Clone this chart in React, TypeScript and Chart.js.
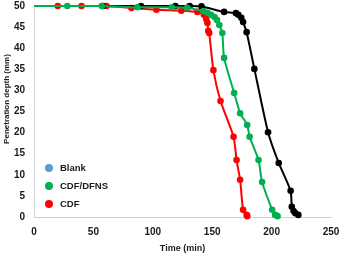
import React, { useEffect, useRef } from "react";
import { Chart, registerables } from "chart.js";

Chart.register(...registerables);

const seriesNames = ["Blank", "CDF/DFNS", "CDF"];
const lineColors = ["#000000", "#00b050", "#ff0000"];
const legendColors = ["#5b9bd5", "#00b050", "#ff0000"];

const blankTime = [0, 58, 90, 119, 131, 141, 160, 170, 172, 174.5, 176, 179, 185.5, 197, 206, 216, 217, 218.5, 220, 222.5];
const blankDepth = [50, 50, 50, 50, 50, 49.9, 48.6, 48.3, 47.9, 47.2, 46.2, 43.8, 35.1, 20.1, 12.8, 6.2, 2.4, 1.4, 0.9, 0.5];

const dfnsTime = [0, 28, 57, 87, 116, 129, 142.5, 146, 149, 152, 154, 156, 158.5, 160, 168.5, 173.5, 179.5, 181.5, 189, 192, 200.5, 203, 205];
const dfnsDepth = [50, 50, 50, 49.7, 49.7, 49.6, 48.8, 48.4, 47.9, 47.4, 46.7, 45.5, 43.6, 37.7, 29.4, 24.6, 21.8, 19, 13.5, 8.3, 1.7, 0.5, 0.2];

const cdfTime = [20, 40, 61, 82, 103, 124, 137.5, 143, 145, 146, 146.7, 147.5, 151, 157, 168, 170.5, 173.5, 176, 179, 179.5];
const cdfDepth = [50, 50, 50, 49.5, 49.1, 48.9, 48.6, 47.9, 46.9, 46, 44.1, 43.6, 34.8, 27.5, 19, 13.5, 8.8, 1.7, 0.5, 0.2];

const xTicks = [0, 50, 100, 150, 200, 250];
const yTicks = [0, 5, 10, 15, 20, 25, 30, 35, 40, 45, 50];

const yTitle = "Penetration depth (mm)";
const xTitle = "Time (min)";

const FONT = "'Liberation Sans', Arial, sans-serif";

function toPoints(xs: number[], ys: number[]) {
  return xs.map((x, i) => ({ x, y: ys[i] }));
}

const legendPlugin = {
  id: "insideLegend",
  afterDraw(chart: any) {
    const { ctx, chartArea } = chart;
    ctx.save();
    ctx.font = `bold 9.5px ${FONT}`;
    ctx.textBaseline = "middle";
    ctx.textAlign = "left";
    const x0 = chartArea.left + 15;
    const y0 = chartArea.top + 162;
    seriesNames.forEach((name, i) => {
      const y = y0 + i * 18;
      ctx.beginPath();
      ctx.fillStyle = legendColors[i];
      ctx.arc(x0, y, 4, 0, Math.PI * 2);
      ctx.fill();
      ctx.fillStyle = "#1a1a1a";
      ctx.fillText(name, x0 + 11, y);
    });
    // y axis title
    ctx.translate(7, chartArea.top + 93);
    ctx.rotate(-Math.PI / 2);
    ctx.textAlign = "center";
    ctx.font = `bold 8px ${FONT}`;
    ctx.fillText(yTitle, 0, 0);
    ctx.restore();
  },
};

export default function App() {
  const ref = useRef<HTMLCanvasElement>(null);
  useEffect(() => {
    if (!ref.current) return;
    const sets = [
      { t: blankTime, d: blankDepth, first0: true },
      { t: dfnsTime, d: dfnsDepth, first0: true },
      { t: cdfTime, d: cdfDepth, first0: false },
    ];
    const orders = [2, 1, 3];
    const chart = new Chart(ref.current, {
      type: "line",
      data: {
        datasets: sets.map((s, i) => ({
          label: seriesNames[i],
          data: toPoints(s.t, s.d),
          borderColor: lineColors[i],
          backgroundColor: lineColors[i],
          pointBackgroundColor: lineColors[i],
          pointBorderColor: lineColors[i],
          borderWidth: 2,
          pointRadius: (c: any) => (s.first0 && c.dataIndex === 0 ? 0 : 3.3),
          pointBorderWidth: 0,
          tension: 0.2,
          clip: false as any,
          order: orders[i],
        })),
      },
      options: {
        animation: false,
        responsive: false,
        maintainAspectRatio: false,
        layout: { padding: { top: 6, right: 11, left: 0, bottom: 0 } },
        plugins: { legend: { display: false }, tooltip: { enabled: false } },
        scales: {
          x: {
            type: "linear",
            min: 0,
            max: 250,
            afterBuildTicks: (s: any) => {
              s.ticks = xTicks.map((v) => ({ value: v }));
            },
            afterFit: (s: any) => {
              s.height = 38;
              s.paddingLeft = 0;
              s.paddingRight = 0;
            },
            grid: { display: false, drawTicks: false },
            border: { display: true, color: "#d0d0d0", width: 1 },
            ticks: {
              padding: 9,
              color: "#1a1a1a",
              font: { family: FONT, size: 10, weight: "bold" },
              maxRotation: 0,
            },
            title: {
              display: true,
              text: xTitle,
              color: "#1a1a1a",
              font: { family: FONT, size: 9, weight: "bold" },
              padding: { top: 0, bottom: 1 },
            },
          },
          y: {
            type: "linear",
            min: 0,
            max: 50,
            afterBuildTicks: (s: any) => {
              s.ticks = yTicks.map((v) => ({ value: v }));
            },
            afterFit: (s: any) => {
              s.width = 34;
              s.paddingTop = 0;
              s.paddingBottom = 0;
            },
            grid: { display: false, drawTicks: false },
            border: { display: true, color: "#d9d9d9", width: 1 },
            ticks: {
              padding: 9,
              color: "#1a1a1a",
              font: { family: FONT, size: 10, weight: "bold" },
            },
          },
        },
      },
      plugins: [legendPlugin],
    } as any);
    return () => chart.destroy();
  }, []);
  return (
    <div style={{ position: "absolute", left: 0, top: 0, width: 342, height: 255, background: "#fff" }}>
      <canvas ref={ref} width={342} height={255} style={{ display: "block", width: 342, height: 255 }} />
    </div>
  );
}
